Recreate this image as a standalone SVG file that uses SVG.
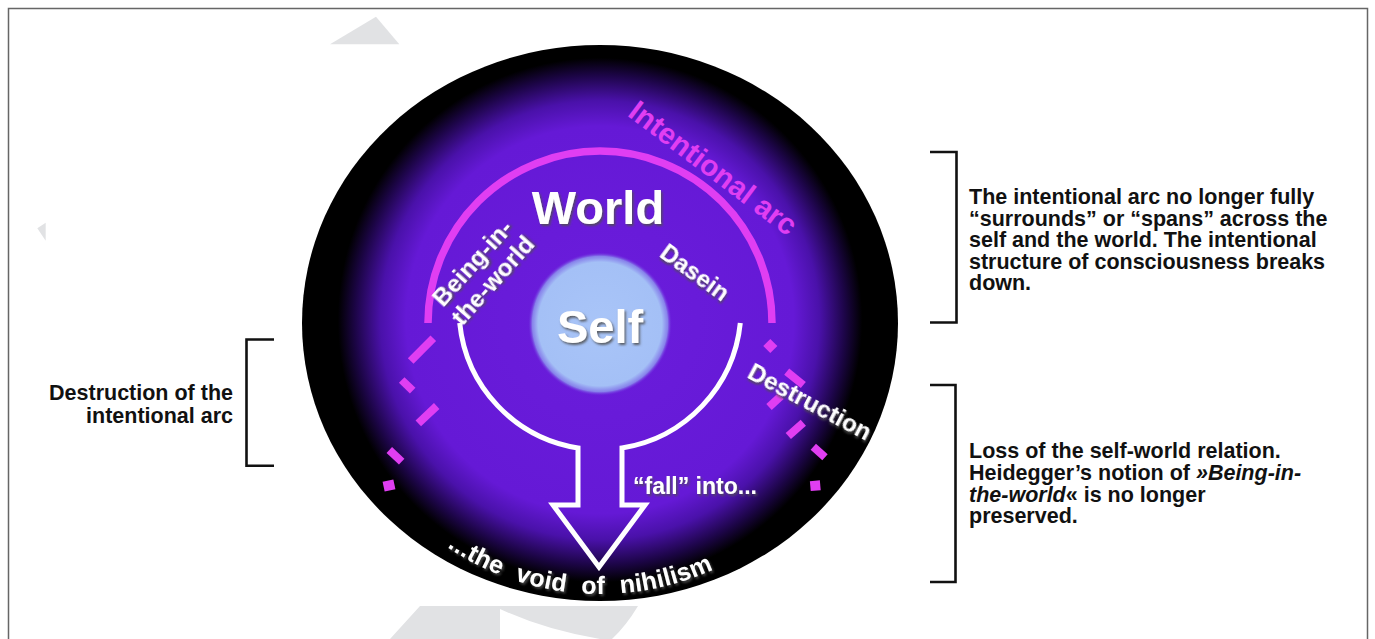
<svg xmlns="http://www.w3.org/2000/svg" width="1375" height="639" viewBox="0 0 1375 639">
<defs>
<style>
.lbl{font-family:"Liberation Sans",Arial,Helvetica,sans-serif;font-weight:bold;}
.w{fill:#ffffff;filter:url(#sh);}
.mag{fill:#e03ef2;}
.dash{stroke:#e03ef2;stroke-width:8;stroke-linecap:butt;fill:none;}
.sq{fill:#e03ef2;}
.note{font-family:"Liberation Sans",Arial,Helvetica,sans-serif;font-weight:bold;font-size:21.5px;fill:#111111;}
.br{fill:none;stroke:#111111;stroke-width:2.6;}
.bg{fill:#e1e2e4;}
</style>
<radialGradient id="glow" gradientUnits="userSpaceOnUse" cx="600" cy="320" r="285">
<stop offset="0" stop-color="#6b1ddc"/>
<stop offset="0.68" stop-color="#6519d6"/>
<stop offset="0.77" stop-color="#4a11aa"/>
<stop offset="0.86" stop-color="#1c0546"/>
<stop offset="0.92" stop-color="#000000"/>
<stop offset="1" stop-color="#000000"/>
</radialGradient>
<radialGradient id="selfg" gradientUnits="userSpaceOnUse" cx="600" cy="324" r="72">
<stop offset="0" stop-color="#a9c5f8"/>
<stop offset="0.86" stop-color="#a4c0f6"/>
<stop offset="0.94" stop-color="#8d95ee" stop-opacity="0.85"/>
<stop offset="1" stop-color="#6b1ddc" stop-opacity="0"/>
</radialGradient>
<filter id="sh" x="-20%" y="-30%" width="140%" height="160%">
<feDropShadow dx="1.5" dy="2" stdDeviation="1.2" flood-color="#505050" flood-opacity="0.85"/>
</filter>
<path id="voidPath" d="M447,547 A273,273 0 0 0 836,458.5"/>
</defs>

<g id="background">
<rect x="8.5" y="8.5" width="1359" height="700" fill="#ffffff" stroke="#666666" stroke-width="1.5"/>
<polygon class="bg" points="330,44.3 376,16.7 399.3,44.3"/>
<polygon class="bg" points="37.3,228.3 45.7,222.7 45.7,240.7"/>
<path class="bg" d="M390,639 L420,606 L638,606 Q626,626 612,639 L600,639 Q545,630 500,609 L500,639 Z"/>
</g>

<g id="sphere">
<ellipse cx="600" cy="323" rx="298" ry="278" fill="url(#glow)"/>
</g>

<g id="self">
<circle cx="600" cy="324" r="72" fill="url(#selfg)"/>
<text class="lbl w" x="600" y="343" font-size="47" text-anchor="middle">Self</text>
</g>

<g id="intentional-arc">
<path d="M428,323 A172,172 0 0 1 772,323" fill="none" stroke="#e03ef2" stroke-width="7.5"/>
<text class="lbl mag" font-size="29.5" text-anchor="middle" transform="translate(707,176) rotate(37)">Intentional arc</text>
</g>

<g id="arc-fragments-left">
<line class="dash" x1="433.3" y1="338.3" x2="410.7" y2="361"/>
<line class="dash" x1="401.7" y1="380" x2="412.7" y2="390.7"/>
<line class="dash" x1="436.7" y1="406" x2="418.3" y2="423.3"/>
<line class="dash" x1="389.3" y1="450" x2="401.7" y2="461.7"/>
<rect class="sq" x="-5.5" y="-5" width="11" height="10" transform="translate(389,485.5) rotate(-12)"/>
</g>

<g id="arc-fragments-right">
<rect class="sq" x="-5" y="-5" width="10" height="10" transform="translate(770.3,346) rotate(45)"/>
<line class="dash" x1="786.7" y1="371.7" x2="803.3" y2="385"/>
<line class="dash" x1="781" y1="396" x2="769" y2="407"/>
<line class="dash" x1="803.3" y1="422.7" x2="788.3" y2="436"/>
<line class="dash" x1="813.3" y1="446.7" x2="825" y2="457.3"/>
<rect class="sq" x="-5" y="-5" width="10" height="10" transform="translate(815.3,485.7) rotate(-5)"/>
</g>

<g id="world">
<text class="lbl w" x="598" y="224" font-size="47" text-anchor="middle">World</text>
</g>

<g id="being-in-the-world">
<text class="lbl w" font-size="24.5" transform="translate(443,308) rotate(-48)">Being-in-</text>
<text class="lbl w" font-size="24.5" transform="translate(462,327) rotate(-48)">the-world</text>
</g>

<g id="dasein">
<text class="lbl w" font-size="24" text-anchor="middle" transform="translate(690,279) rotate(36)">Dasein</text>
</g>

<g id="fall-arrow">
<path d="M459.7,323 A141,141 0 0 0 578,448 L578,505 L553,505 L599,567 L645,505 L622,505 L622,448 A141,141 0 0 0 740.3,323" fill="none" stroke="#ffffff" stroke-width="5" stroke-linejoin="miter"/>
<text class="lbl w" x="633" y="494" font-size="23">“fall” into...</text>
</g>

<g id="destruction">
<text class="lbl w" font-size="24.5" text-anchor="middle" transform="translate(806,409) rotate(28)">Destruction</text>
</g>

<g id="void">
<text class="lbl w" font-size="25" word-spacing="8" letter-spacing="0.3"><textPath href="#voidPath">...the void of nihilism</textPath></text>
</g>

<g id="connectors">
<path class="br" d="M274,339.5 H246.5 V465.7 H274"/>
<path class="br" d="M930,152 H956.5 V322.5 H930"/>
<path class="br" d="M930,385 H955.5 V582 H930"/>
</g>

<g id="note-left">
<text class="note" text-anchor="end"><tspan x="233" y="400">Destruction of the</tspan><tspan x="233" y="422.5">intentional arc</tspan></text>
</g>

<g id="note-right-top">
<text class="note"><tspan x="969" y="204">The intentional arc no longer fully</tspan><tspan x="969" y="225.5">“surrounds” or “spans” across the</tspan><tspan x="969" y="247">self and the world. The intentional</tspan><tspan x="969" y="268.5">structure of consciousness breaks</tspan><tspan x="969" y="290">down.</tspan></text>
</g>

<g id="note-right-bottom">
<text class="note"><tspan x="969" y="457.5">Loss of the self-world relation.</tspan><tspan x="969" y="479.5">Heidegger’s notion of <tspan font-style="italic">»Being-in-</tspan></tspan><tspan x="969" y="501.5"><tspan font-style="italic">the-world</tspan>« is no longer</tspan><tspan x="969" y="523">preserved.</tspan></text>
</g>
</svg>
